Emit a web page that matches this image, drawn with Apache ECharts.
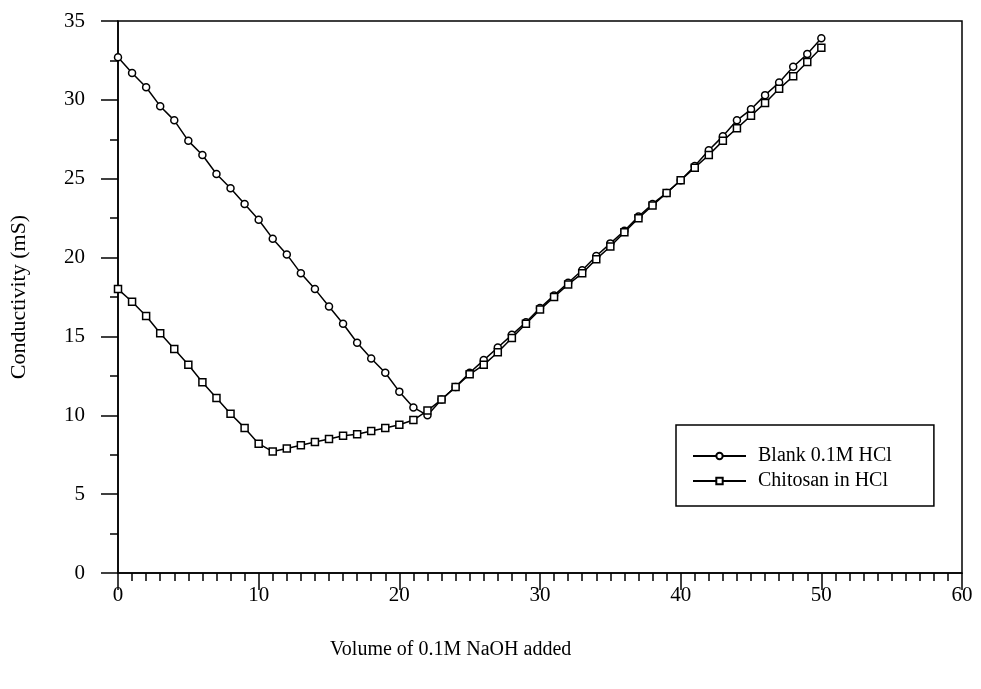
<!DOCTYPE html>
<html>
<head>
<meta charset="utf-8">
<script src="https://cdn.jsdelivr.net/npm/echarts@6/dist/echarts.min.js"></script>
<style>html,body{margin:0;padding:0;background:#fff;}#c{width:981px;height:689px;}</style>
</head>
<body>
<div id="c"></div>
<script>
const volumes = [0,1,2,3,4,5,6,7,8,9,10,11,12,13,14,15,16,17,18,19,20,21,22,23,24,25,26,27,28,29,30,31,32,33,34,35,36,37,38,39,40,41,42,43,44,45,46,47,48,49,50];
const blankHCl = [32.7,31.7,30.8,29.6,28.7,27.4,26.5,25.3,24.4,23.4,22.4,21.2,20.2,19.0,18.0,16.9,15.8,14.6,13.6,12.7,11.5,10.5,10.0,11.0,11.8,12.7,13.5,14.3,15.1,15.9,16.8,17.6,18.4,19.2,20.1,20.9,21.7,22.6,23.4,24.1,24.9,25.8,26.8,27.7,28.7,29.4,30.3,31.1,32.1,32.9,33.9];
const chitosanHCl = [18.0,17.2,16.3,15.2,14.2,13.2,12.1,11.1,10.1,9.2,8.2,7.7,7.9,8.1,8.3,8.5,8.7,8.8,9.0,9.2,9.4,9.7,10.3,11.0,11.8,12.6,13.2,14.0,14.9,15.8,16.7,17.5,18.3,19.0,19.9,20.7,21.6,22.5,23.3,24.1,24.9,25.7,26.5,27.4,28.2,29.0,29.8,30.7,31.5,32.4,33.3];
const seriesNames = ['Blank 0.1M HCl', 'Chitosan in HCl'];
const xAxisTitle = 'Volume of 0.1M NaOH added';
const yAxisTitle = 'Conductivity (mS)';

const font = 'Liberation Serif';
const pair = (ys) => volumes.map((v, i) => [v, ys[i]]);

const chart = echarts.init(document.getElementById('c'), null, {renderer: 'canvas'});
const mkSeries = (name, data, symbol) => ({
  name, type: 'line', data, symbol, symbolSize: 7,
  showAllSymbol: true,
  lineStyle: {color: '#000', width: 1.5},
  itemStyle: {color: '#fff', borderColor: '#000', borderWidth: 1.5},
  emphasis: {disabled: true},
  animation: false
});
chart.setOption({
  backgroundColor: '#fff',
  animation: false,
  grid: {left: 117, right: 19, top: 21, bottom: 116, show: true, borderColor: '#000', borderWidth: 1.5, backgroundColor: 'transparent'},
  legend: {
    data: seriesNames,
    orient: 'vertical',
    left: 676, top: 425,
    padding: [21, 42, 15, 16],
    itemGap: 5,
    itemWidth: 53, itemHeight: 8,
    borderColor: '#000', borderWidth: 1.5,
    backgroundColor: '#fff',
    textStyle: {fontFamily: font, fontSize: 20, color: '#000', padding: [0, 0, 0, 7]}
  },
  xAxis: {
    type: 'value', min: 0, max: 60, interval: 10,
    axisLine: {show: true, onZero: false, lineStyle: {color: '#000', width: 1.5}},
    axisTick: {show: true, length: 17, lineStyle: {color: '#000', width: 1.5}},
    minorTick: {show: true, splitNumber: 10, length: 8, lineStyle: {color: '#000', width: 1.5}},
    splitLine: {show: false},
    axisLabel: {margin: 12, fontFamily: font, fontSize: 21, color: '#000'}
  },
  yAxis: {
    type: 'value', min: 0, max: 35, interval: 5,
    name: yAxisTitle, nameLocation: 'middle', nameGap: 88,
    nameTextStyle: {fontFamily: font, fontSize: 22, color: '#000'},
    axisLine: {show: true, lineStyle: {color: '#000', width: 1.5}},
    axisTick: {show: true, length: 17, lineStyle: {color: '#000', width: 1.5}},
    minorTick: {show: true, splitNumber: 2, length: 8, lineStyle: {color: '#000', width: 1.5}},
    splitLine: {show: false},
    axisLabel: {margin: 33, fontFamily: font, fontSize: 21, color: '#000'}
  },
  graphic: [{
    type: 'text', left: 330, top: 640,
    style: {text: xAxisTitle, font: '20px "Liberation Serif"', fill: '#000'}
  }],
  series: [
    mkSeries(seriesNames[0], pair(blankHCl), 'circle'),
    mkSeries(seriesNames[1], pair(chitosanHCl), 'rect')
  ]
});
</script>
</body>
</html>
